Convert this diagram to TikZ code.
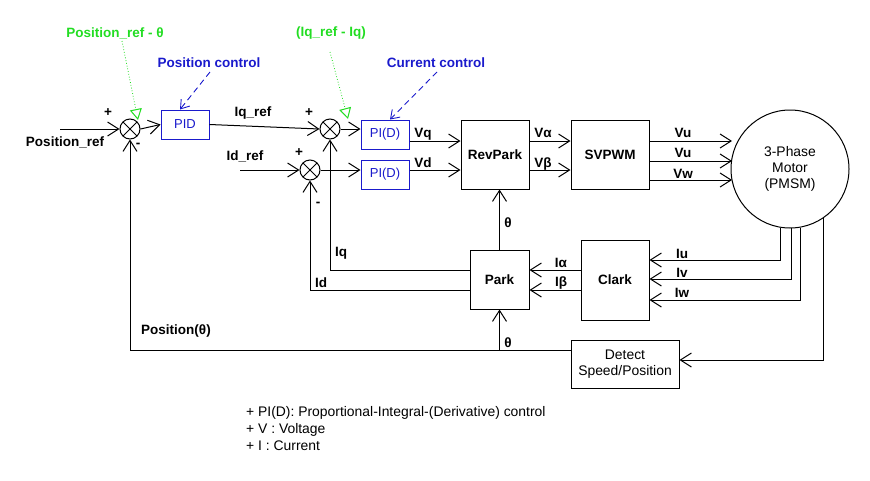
\documentclass[tikz,border=0pt]{standalone}
\usepackage{fontspec}
\setmainfont{Liberation Sans}
\usetikzlibrary{arrows.meta,calc}
\definecolor{ngreen}{RGB}{34,221,34}
\definecolor{nblue}{RGB}{26,26,204}
\begin{document}
\begin{tikzpicture}[x=1pt,y=-1pt,
  lw/.style={line width=1pt},
  conn/.style={lw,draw,-{Straight Barb[length=11pt,width=14pt,line width=1pt]}},
  plain/.style={lw,draw},
  blk/.style={draw,lw,inner sep=0pt,font=\fontsize{13.5}{15}\selectfont\bfseries},
  bblk/.style={draw=nblue,lw,inner sep=0pt,text=nblue,minimum width=48pt,minimum height=29pt,font=\fontsize{13}{15}\selectfont},
  sumn/.style={circle,draw,lw,minimum size=20pt,inner sep=0pt,
    path picture={\draw[lw] (path picture bounding box.north west) -- (path picture bounding box.south east)
       (path picture bounding box.south west) -- (path picture bounding box.north east);}},
  lbl/.style={font=\fontsize{13.5}{15}\selectfont\bfseries,inner sep=0pt},
  note/.style={font=\fontsize{13.9}{16.3}\selectfont,inner sep=0pt,align=center},
  gnote/.style={lbl,text=ngreen},
  bnote/.style={lbl,text=nblue},
  garrow/.style={draw=ngreen,line width=0.8pt,dotted,-{Triangle[open,length=11pt,width=12pt,line width=1pt]}},
  barrow/.style={draw=nblue,line width=0.9pt,dash pattern=on 6pt off 4pt,-{Straight Barb[length=8pt,width=11pt,line width=0.9pt]}}
]
\useasboundingbox (0,0) rectangle (870,480);
% blocks
\node[sumn] (sum1) at (130,129) {};
\node[sumn] (sum2) at (330,129) {};
\node[sumn] (sum3) at (310,170) {};
\node[bblk] (pid) at (185,124.5) {PID};
\node[bblk] (pi1) at (385,134.5) {PI(D)};
\node[bblk] (pi2) at (385,174.5) {PI(D)};
\node[blk,minimum width=68pt,minimum height=69pt] (rev) at (495,154.5) {RevPark};
\node[blk,minimum width=78pt,minimum height=69pt] (svp) at (610,154.5) {SVPWM};
\node[circle,draw,lw,minimum size=118pt,inner sep=0pt,note] (motor) at (790,169) {3-Phase\\Motor\\(PMSM)};
\node[blk,minimum width=68pt,minimum height=80pt] (clark) at (615,280) {Clark};
\node[blk,minimum width=59pt,minimum height=59pt] (park) at (499.5,279.5) {Park};
\node[draw,lw,minimum width=108pt,minimum height=48pt,note] (det) at (625,364.5) {Detect\\Speed/Position};
% levels
\coordinate (pin) at (60,129);
\coordinate (idin) at (240,170);
\coordinate (yq) at (0,141);
\coordinate (yd) at (0,170);
\coordinate (yu) at (0,141);
\coordinate (yv) at (0,161);
\coordinate (yw) at (0,180);
\coordinate (ciu) at (0,260);
\coordinate (civ) at (0,279);
\coordinate (ciw) at (0,300);
\coordinate (ia) at (0,270);
\coordinate (ib) at (0,290);
\coordinate (ypos) at (0,350);
\coordinate (ydet) at (0,360);
\coordinate (mx) at (732,0);
% forward path
\draw[conn] (pin) -- (sum1.west);
\draw[conn] (sum1.east) -- (pid.west);
\draw[conn] (pid.east) -- (sum2.west);
\draw[conn] (sum2.east) -- (sum2.east -| pi1.west);
\draw[conn] (idin) -- (sum3.west);
\draw[conn] (sum3.east) -- (sum3.east -| pi2.west);
\draw[conn] (pi1.east |- yq) -- (rev.west |- yq);
\draw[conn] (pi2.east |- yd) -- (rev.west |- yd);
\draw[conn] (rev.east |- yq) -- (svp.west |- yq);
\draw[conn] (rev.east |- yd) -- (svp.west |- yd);
\draw[conn] (svp.east |- yu) -- (mx |- yu);
\draw[conn] (svp.east |- yv) -- (mx |- yv);
\draw[conn] (svp.east |- yw) -- (mx |- yw);
% feedback
\draw[conn] (motor.-99) |- (clark.east |- ciu);
\draw[conn] (motor.-89) |- (clark.east |- civ);
\draw[conn] (motor.-80) |- (clark.east |- ciw);
\draw[conn] (motor.-56) |- (det.east |- ydet);
\draw[conn] (clark.west |- ia) -- (park.east |- ia);
\draw[conn] (clark.west |- ib) -- (park.east |- ib);
\draw[conn] (park.west |- ia) -| (sum2.south);
\draw[conn] (park.west |- ib) -| (sum3.south);
\draw[conn] (park.north) -- (park.north |- rev.south);
\draw[conn] (det.west |- ypos) -| (sum1.south);
\draw[conn] (park.south |- ypos) -- (park.south);
% labels
\node[lbl] at (108,113) {+};
\node[lbl] at (65,142) {Position\_ref};
\node[lbl] at (138,145) {-};
\node[lbl] at (253,113) {Iq\_ref};
\node[lbl] at (309,113) {+};
\node[lbl] at (245,156) {Id\_ref};
\node[lbl] at (299,153) {+};
\node[lbl] at (318,204) {-};
\node[lbl] at (341,253) {Iq};
\node[lbl] at (321,283) {Id};
\node[lbl] at (423,134) {Vq};
\node[lbl] at (423,163) {Vd};
\node[lbl] at (543,133) {V\char"03B1};
\node[lbl] at (543,164) {V\char"03B2};
\node[lbl] at (683,133) {Vu};
\node[lbl] at (683,153) {Vu};
\node[lbl] at (683,174) {Vw};
\node[lbl] at (682,254) {Iu};
\node[lbl] at (682,273) {Iv};
\node[lbl] at (682,293) {Iw};
\node[lbl] at (561,263) {I\char"03B1};
\node[lbl] at (561,283) {I\char"03B2};
\node[lbl] at (508,223) {\char"03B8};
\node[lbl] at (508,343) {\char"03B8};
\node[lbl] at (176,331) {Position(\char"03B8)};
% annotations
\node[gnote] (gn1) at (115,33) {Position\_ref - \char"03B8};
\node[gnote] (gn2) at (331,33) {(Iq\_ref - Iq)};
\node[bnote] (bn1) at (209,63) {Position control};
\node[bnote] (bn2) at (436,63) {Current control};
\coordinate (gt1) at (138,120);
\coordinate (gt2) at (348,119);
\draw[garrow] (122,41) -- (gt1);
\draw[garrow] (330,52) -- (gt2);
\draw[barrow] (210,72) -- (pid.north -| 180,0);
\draw[barrow] (437,72) -- (pi1.north -| 390,0);
% legend
\node[note,anchor=west] at (246,413) {+ PI(D): Proportional-Integral-(Derivative) control};
\node[note,anchor=west] at (246,430) {+ V : Voltage};
\node[note,anchor=west] at (246,445.5) {+ I : Current};
\end{tikzpicture}
\end{document}
